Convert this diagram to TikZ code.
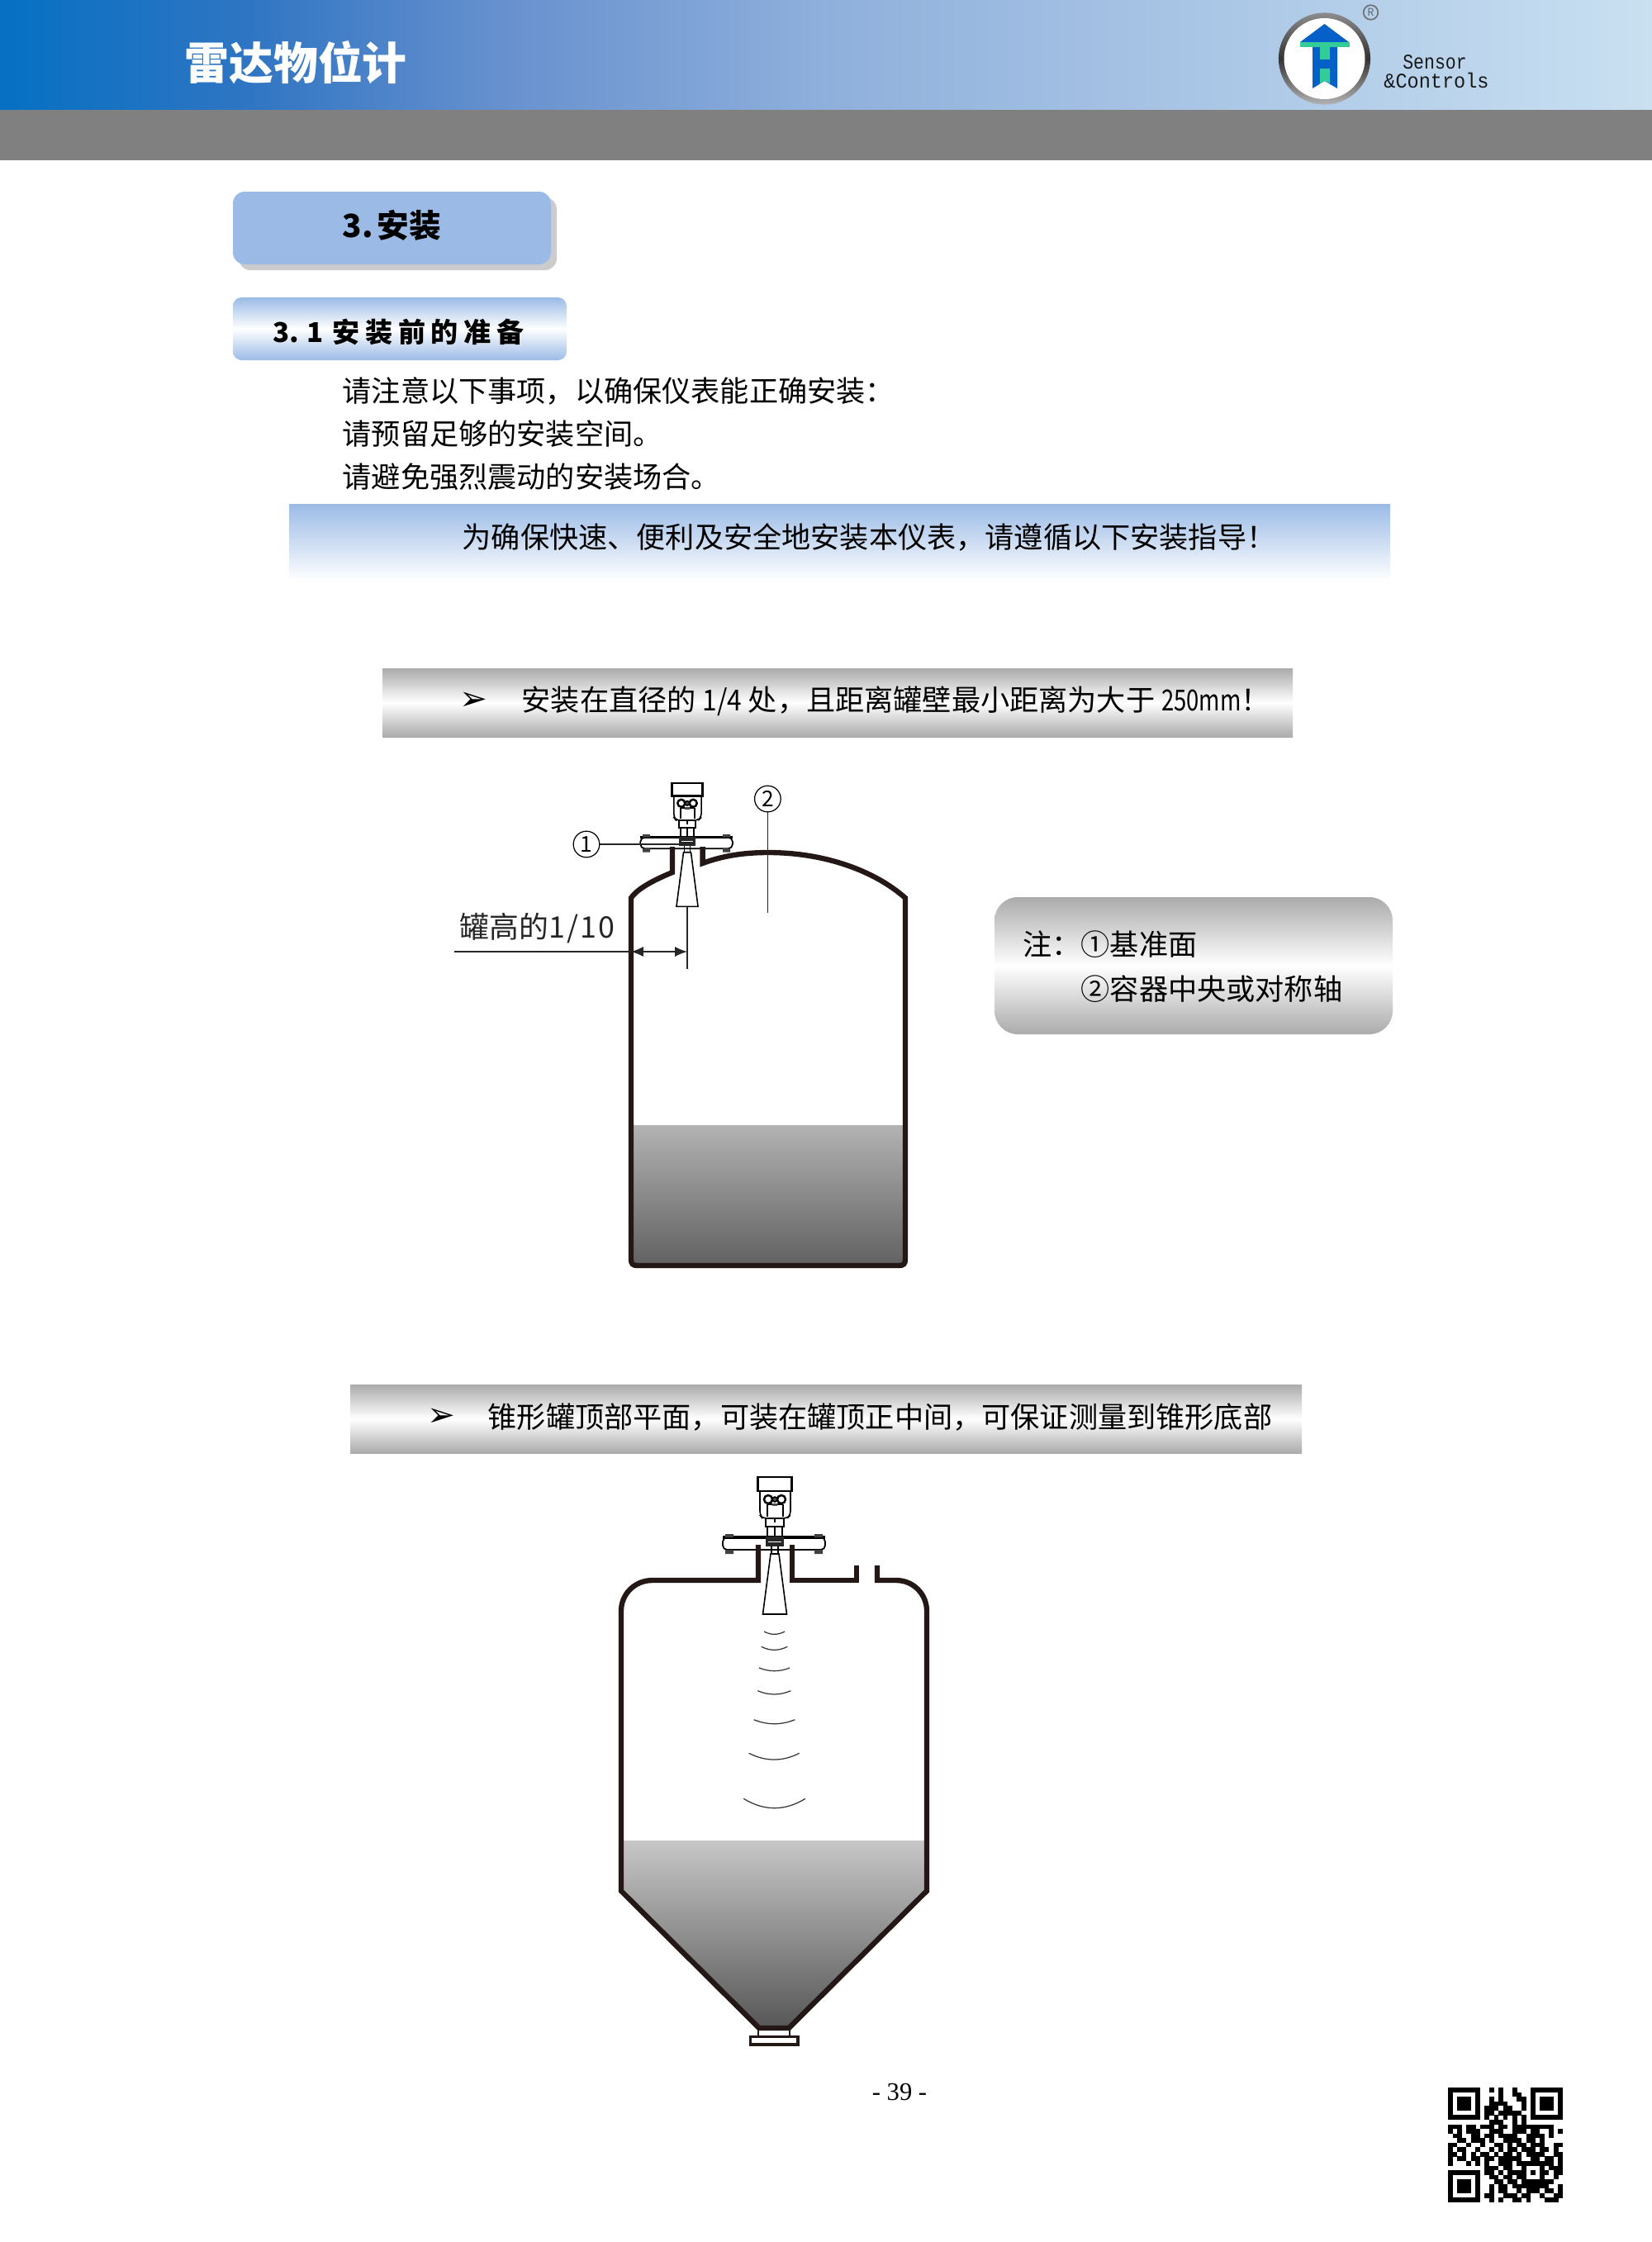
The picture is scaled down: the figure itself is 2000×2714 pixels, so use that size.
\documentclass[tikz,border=0pt]{standalone}
\usetikzlibrary{arrows.meta}
\usepackage{fontspec}
\setmainfont{Noto Sans CJK SC}
\newfontfamily\djv{DejaVu Sans}
\newfontfamily\lmonoA[FakeStretch=0.85]{Liberation Mono}
\newfontfamily\lmonoB[FakeStretch=0.93]{Liberation Mono}
\newfontfamily\lserif{Liberation Serif}
\definecolor{hA}{HTML}{0670C2}
\definecolor{hA2}{HTML}{2F75C3}
\definecolor{hA3}{HTML}{6690CE}
\definecolor{hB}{HTML}{8FB0DC}
\definecolor{hC}{HTML}{C9E0F1}
\definecolor{boxblue}{HTML}{9BBBE6}
\definecolor{bandgray}{HTML}{ABABAB}
\definecolor{logoblue}{HTML}{0560C8}
\definecolor{logogreen}{HTML}{33CC99}
\definecolor{wallc}{HTML}{231815}
\newcount\qrc
\def\qrscan#1{\ifx#1.\relax\else\if#11\fill[black] ({1753+\the\qrc*5.56},{2527+\qrr*5.56}) rectangle ++(5.7,5.7);\fi\advance\qrc by 1 \expandafter\qrscan\fi}
\def\qrline#1#2{\def\qrr{#1}\qrc=0 \qrscan#2.}
\newcommand{\radarunit}[3]{%
\begin{scope}[shift={(#1,#2)},scale=#3,line width=0.45pt,draw=black]
 \draw[fill=white,line width=0.7pt] (-20.5,0) rectangle (20.5,17);
 \draw[rounded corners=1.5] (-18,17) -- (-18,46) -- (-15,50) -- (15,50) -- (19,46) -- (19,17);
 \draw (-9,33) -- (-9,48) (10,33) -- (10,48) (-9,33) -- (10,33);
 \draw[line width=0.7pt] (-8,27) circle (5) (8,27) circle (5);
 \draw[fill=black!70] (0,27) circle (3);
 \fill[black!70] (-3,32) rectangle (3,35);
 \draw (-11,50) -- (-11,60) -- (11,60) -- (11,50);
 \draw (-9,60) -- (-9,72) (9,60) -- (9,72) (0,60) -- (0,72) (0,50) -- (0,55);
 \draw[fill=white,rounded corners=1.5,line width=0.5pt] (-63,73) rectangle (61,88);
 \draw[line width=0.9pt] (-63,73) -- (61,73);
 \fill[black!75] (-60,69) rectangle (-50,73) (48,69) rectangle (58,73) (-60,88) rectangle (-50,93) (48,88) rectangle (58,93);
 \fill[black!85] (-11,72) rectangle (11,84);
 \draw[white,line width=0.3pt] (-8,78) -- (8,78);
 \draw (-4,84) -- (-4,93) -- (4,93) -- (4,84);
 \draw[fill=white] (-5,93) -- (-14.5,166) -- (14.5,166) -- (5,93) -- cycle;
\end{scope}}
\tikzset{
 txt/.style={inner sep=0pt,anchor=west,font=\fontsize{10pt}{12pt}\selectfont},
 wall/.style={draw=wallc,line width=1.8pt,line join=miter},
 thin line/.style={draw=black!85,line width=0.35pt},
 waveln/.style={draw=black!80,line width=0.35pt},
 numcirc/.style={draw=black,line width=0.35pt,circle,inner sep=0pt,minimum size=9pt,font=\fontsize{7.5pt}{9pt}\selectfont},
 grayband/.style={top color=bandgray,bottom color=bandgray,middle color=white},
 bluebold/.style={inner sep=0pt,anchor=west},
 x=0.01cm,y=-0.01cm
}
\begin{document}
\begin{tikzpicture}
\useasboundingbox (0,0) rectangle (2000,2714);
% header
\shade[left color=hA,right color=hA2] (0,0) rectangle (300.5,133);
\shade[left color=hA2,right color=hA3] (300,0) rectangle (600.5,133);
\shade[left color=hA3,right color=hB] (600,0) rectangle (1000.5,133);
\shade[left color=hB,right color=hC] (1000,0) rectangle (2000,133);
\fill[black!50] (0,133) rectangle (2000,193.5);
\node[inner sep=0pt,anchor=west,text=white,font=\fontsize{15.3pt}{18pt}\selectfont\bfseries] (title) at (223,76) {雷达物位计};
% logo
\shade[top color=black!45,bottom color=black!30,middle color=black!80] (1603.5,71) circle (55.6);
\fill[white] (1603.5,71) circle (49);
\fill[logoblue] (1603.5,29) -- (1633,51) -- (1574,51) -- cycle;
\fill[logogreen] (1574,51) rectangle (1633.5,57);
\fill[logoblue] (1589,57) -- (1619,57) -- (1619,107) -- (1603.5,98) -- (1589,107) -- cycle;
\fill[logogreen] (1598,57) rectangle (1610,72);
\fill[logogreen] (1598,83) -- (1610,83) -- (1610,101) -- (1604,98) -- (1598,101) -- cycle;
\node[draw=black!55,line width=0.5pt,circle,inner sep=0pt,minimum size=5pt,text=black!60,font=\fontsize{3.6pt}{4pt}\selectfont] (regmark) at (1659.5,15) {R};
\node[inner sep=0pt,font=\lmonoA\fontsize{7.2pt}{8pt}\selectfont,text=black!90] (sensor) at (1737,75) {Sensor};
\node[inner sep=0pt,font=\lmonoB\fontsize{7.2pt}{8pt}\selectfont,text=black!90] (controls) at (1739,97) {\&Controls};
% section boxes
\fill[black!20,rounded corners=4pt] (289,239) rectangle (674,327);
\fill[boxblue,rounded corners=4pt] (282,232) rectangle (667,320);
\node[bluebold,font=\fontsize{11pt}{13pt}\selectfont\bfseries] (sec3a) at (414,273) {3.};
\node[bluebold,font=\fontsize{11pt}{13pt}\selectfont\bfseries] (sec3b) at (456,273) {安装};
\shade[rounded corners=3pt,top color=boxblue,bottom color=boxblue,middle color=white] (282,360) rectangle (686,436);
\node[bluebold,font=\fontsize{9.4pt}{12pt}\selectfont\bfseries] (sec31a) at (330,402) {3.};
\node[bluebold,font=\fontsize{9.4pt}{12pt}\selectfont\bfseries] (sec31b) at (371,402) {1};
\node[bluebold,font=\fontsize{9.4pt}{12pt}\selectfont\bfseries\addfontfeature{LetterSpace=20}] (sec31c) at (402,402) {安装前的准备};
% body text
\node[txt] (l1) at (414,473) {请注意以下事项，以确保仪表能正确安装：};
\node[txt] (l2) at (414,525) {请预留足够的安装空间。};
\node[txt] (l3) at (414,577) {请避免强烈震动的安装场合。};
\shade[top color=boxblue,bottom color=white] (350,610) rectangle (1683,703);
\node[txt] (l4) at (559,650) {为确保快速、便利及安全地安装本仪表，请遵循以下安装指导！};
% band 1
\shade[grayband] (463,809) rectangle (1565,892);
\node[inner sep=0pt,font=\djv\fontsize{11.5pt}{13pt}\selectfont] (ar1) at (573,849) {➢};
\node[txt] (b1) at (631,849) {安装在直径的 {\addfontfeature{FakeStretch=0.9}1/4} 处，且距离罐壁最小距离为大于 {\addfontfeature{FakeStretch=0.78}250mm}！};
% tank 1
\shade[top color=black!30,bottom color=black!62] (764,1362) rectangle (1096,1532);
\radarunit{832}{948}{0.9}
\draw[wall] (814,1025) -- (814,1056) .. controls (785,1068) and (770,1078) .. (764,1087) -- (764,1524) .. controls (764,1530) and (766,1532) .. (772,1532) -- (1088,1532) .. controls (1094,1532) and (1096,1530) .. (1096,1524) -- (1096,1087) .. controls (1060,1055) and (1000,1032) .. (930,1032) .. controls (900,1032) and (875,1036) .. (850.6,1045) -- (850.6,1025);
\node[numcirc] (n1) at (710,1022) {1};
\node[numcirc] (n2) at (929.4,967) {2};
\coordinate (n1end) at (824,1022);
\coordinate (n2end) at (929.4,1105);
\coordinate (hornb) at (832,1098);
\coordinate (hornl) at (832,1173);
\coordinate (wallp) at (764,1152);
\coordinate (hornp) at (832,1152);
\coordinate (leadl) at (550,1152);
\draw[thin line] (n1) -- (n1end);
\draw[thin line] (n2) -- (n2end);
\draw[thin line] (hornb) -- (hornl);
\draw[thin line] (leadl) -- (wallp);
\draw[thin line,{Latex[length=4.2pt,width=3.4pt]}-{Latex[length=4.2pt,width=3.4pt]}] (wallp) -- (hornp);
\node[inner sep=0pt,anchor=west,font=\fontsize{10.2pt}{12pt}\selectfont,text=black!85] (lbl) at (556,1124) {罐高的{\addfontfeature{LetterSpace=6}1/10}};
% note
\shade[rounded corners=8pt,grayband] (1204,1086) rectangle (1686,1252);
\node[txt] (note1) at (1238,1143) {注：};
\node[txt] (note1b) at (1308,1143) {①基准面};
\node[txt] (note2) at (1308,1197) {②容器中央或对称轴};
% band 2
\shade[grayband] (424,1676) rectangle (1576,1759);
\node[inner sep=0pt,font=\djv\fontsize{11.5pt}{13pt}\selectfont] (ar2) at (534,1716) {➢};
\node[txt] (b2) at (590,1716) {锥形罐顶部平面，可装在罐顶正中间，可保证测量到锥形底部};
% tank 2
\shade[top color=black!22,bottom color=black!66] (752,2228) -- (1122,2228) -- (1122,2289) -- (955,2455) -- (919,2455) -- (752,2289) -- cycle;
\radarunit{938}{1788}{1}
\draw[wall] (918,1870) -- (918,1913) -- (790,1913) .. controls (768,1913) and (752,1930) .. (752,1950) -- (752,2289) -- (919,2455) -- (955,2455) -- (1122,2289) -- (1122,1950) .. controls (1122,1930) and (1106,1913) .. (1085,1913) -- (1062,1913) -- (1062,1895);
\draw[wall] (1037,1895) -- (1037,1913) -- (959,1913) -- (959,1870);
\draw[draw=wallc,line width=0.8pt] (918,2457) -- (918,2466) (956,2457) -- (956,2466);
\draw[draw=wallc,line width=0.9pt] (908.5,2465.5) rectangle (966,2475);
\draw[waveln] (925,1975) .. controls (933.3,1979.4) and (941.7,1979.4) .. (950,1975);
\draw[waveln] (921.7,1993.3) .. controls (932.2,1998.6) and (942.8,1998.6) .. (953.3,1993.3);
\draw[waveln] (919,2019) .. controls (931.3,2023.9) and (943.7,2023.9) .. (956,2019);
\draw[waveln] (917.3,2046.7) .. controls (930.6,2052.4) and (944,2052.4) .. (957.3,2046.7);
\draw[waveln] (912.7,2081.7) .. controls (929.2,2088.4) and (945.8,2088.4) .. (962.3,2081.7);
\draw[waveln] (906.7,2122.3) .. controls (927,2132.6) and (947.4,2132.6) .. (967.7,2122.3);
\draw[waveln] (900.3,2177.3) .. controls (925.2,2192.5) and (950.1,2192.5) .. (975,2177.3);
% page number
\node[inner sep=0pt,font=\lserif\fontsize{8.7pt}{10pt}\selectfont] (page) at (1089,2532) {- 39 -};
% qr
\qrline{0}{1111111001010010001111111}
\qrline{1}{1000001000010011001000001}
\qrline{2}{1011101001010001101011101}
\qrline{3}{1011101001111000101011101}
\qrline{4}{1011101011101100101011101}
\qrline{5}{1000001011011111001000001}
\qrline{6}{1111111010101010101111111}
\qrline{7}{0000000001110010100000000}
\qrline{8}{1110110111011011111111100}
\qrline{9}{1010111001110011101100101}
\qrline{10}{0110011011011110011110100}
\qrline{11}{0011011101001111011010000}
\qrline{12}{1100100100110101101110011}
\qrline{13}{1011001001010110111011010}
\qrline{14}{1101010110101101011110011}
\qrline{15}{1011011011011111001101101}
\qrline{16}{1000101010011101111111101}
\qrline{17}{0000000011101100100010111}
\qrline{18}{1111111011010111101011011}
\qrline{19}{1000001001101101100010010}
\qrline{20}{1011101000110110111111100}
\qrline{21}{1011101001011011111111001}
\qrline{22}{1011101001011001011101101}
\qrline{23}{1000001011001110110010011}
\qrline{24}{1111111001010011010001110}
\end{tikzpicture}
\end{document}
